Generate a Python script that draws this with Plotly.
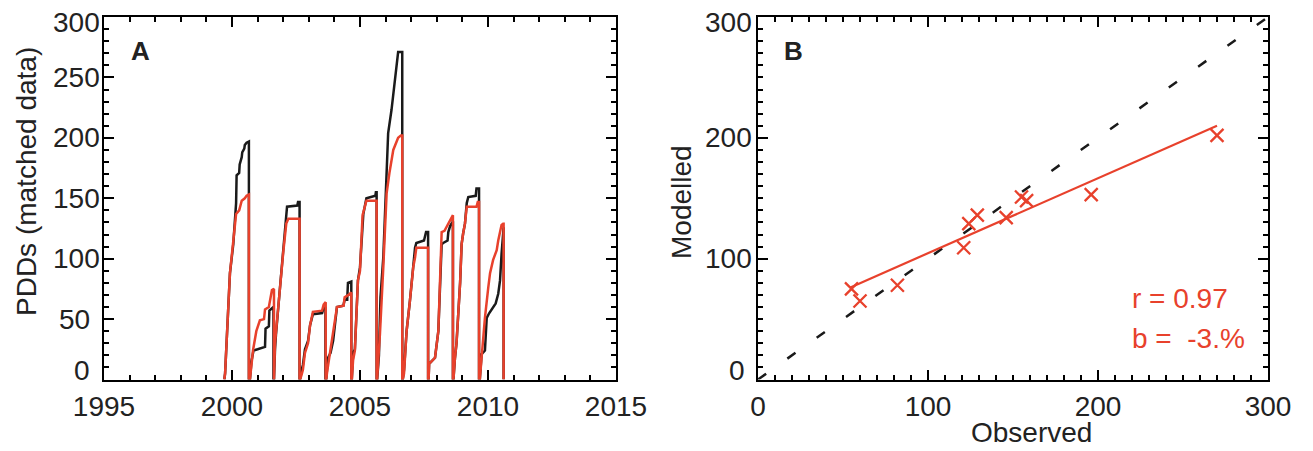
import plotly.graph_objects as go

# ---------------- Panel A data (time series, PDDs) ----------------
obs_t = [1999.70, 1999.73, 1999.92, 2000.05, 2000.16, 2000.18, 2000.28, 2000.30, 2000.38, 2000.40, 2000.48, 2000.50, 2000.57, 2000.66, 2000.66,
         2000.70, 2000.76, 2000.82, 2000.84, 2001.00, 2001.29, 2001.31, 2001.44, 2001.46, 2001.60, 2001.62, 2001.62,
         2001.64, 2001.68, 2001.72, 2001.85, 2002.00, 2002.10, 2002.15, 2002.55, 2002.58, 2002.64, 2002.64,
         2002.66, 2002.72, 2002.77, 2002.85, 2002.97, 2003.05, 2003.16, 2003.52, 2003.56, 2003.65, 2003.65,
         2003.68, 2003.72, 2003.75, 2003.85, 2003.95, 2004.02, 2004.10, 2004.35, 2004.40, 2004.50, 2004.53, 2004.66, 2004.66,
         2004.68, 2004.73, 2004.80, 2004.92, 2005.00, 2005.13, 2005.20, 2005.25, 2005.60, 2005.62, 2005.65, 2005.65,
         2005.67, 2005.74, 2005.80, 2005.91, 2006.04, 2006.10, 2006.23, 2006.36, 2006.49, 2006.65, 2006.65,
         2006.67, 2006.72, 2006.82, 2006.95, 2007.08, 2007.15, 2007.20, 2007.50, 2007.58, 2007.66, 2007.66,
         2007.68, 2007.70, 2007.93, 2008.06, 2008.13, 2008.19, 2008.25, 2008.42, 2008.45, 2008.52, 2008.60, 2008.63, 2008.63,
         2008.65, 2008.71, 2008.77, 2008.91, 2008.97, 2009.03, 2009.10, 2009.17, 2009.23, 2009.52, 2009.55, 2009.65, 2009.65,
         2009.68, 2009.75, 2009.88, 2009.95, 2010.05, 2010.20, 2010.30, 2010.40, 2010.47, 2010.53, 2010.59, 2010.61, 2010.61]
obs_v = [0, 5, 88, 112, 146, 169, 171, 178, 184, 188, 191, 194, 196, 197, 0,
         0, 15, 21, 24, 25, 27, 42, 44, 57, 60, 60, 0,
         0, 25, 38, 70, 105, 128, 143, 144, 147, 147, 0,
         0, 8, 12, 25, 32, 45, 54, 55, 58, 60, 0,
         0, 10, 18, 22, 32, 45, 60, 61, 66, 66, 80, 81, 0,
         0, 22, 25, 82, 93, 137, 146, 150, 152, 155, 155, 0,
         0, 20, 68, 101, 165, 204, 223, 248, 271, 271, 0,
         0, 8, 40, 65, 93, 109, 113, 115, 122, 122, 0,
         0, 13, 18, 40, 90, 112, 113, 115, 122, 127, 130, 130, 0,
         0, 18, 30, 80, 112, 121, 129, 146, 151, 152, 158, 158, 0,
         0, 21, 24, 51, 55, 60, 63, 71, 82, 104, 126, 126, 0]

mod_t = [1999.70, 1999.73, 1999.92, 2000.05, 2000.12, 2000.16, 2000.28, 2000.38, 2000.50, 2000.57, 2000.66, 2000.66,
         2000.70, 2000.76, 2000.82, 2000.95, 2001.09, 2001.25, 2001.29, 2001.44, 2001.56, 2001.64, 2001.64,
         2001.64, 2001.68, 2001.72, 2001.85, 2002.00, 2002.12, 2002.20, 2002.64, 2002.64,
         2002.66, 2002.72, 2002.77, 2002.85, 2002.97, 2003.05, 2003.16, 2003.52, 2003.58, 2003.66, 2003.66,
         2003.68, 2003.72, 2003.78, 2003.90, 2004.00, 2004.10, 2004.36, 2004.40, 2004.55, 2004.66, 2004.66,
         2004.68, 2004.73, 2004.80, 2004.92, 2005.00, 2005.10, 2005.20, 2005.25, 2005.65, 2005.65,
         2005.67, 2005.74, 2005.78, 2005.91, 2006.04, 2006.15, 2006.30, 2006.49, 2006.60, 2006.65, 2006.65,
         2006.67, 2006.72, 2006.82, 2006.95, 2007.08, 2007.15, 2007.20, 2007.66, 2007.66,
         2007.68, 2007.70, 2007.93, 2008.06, 2008.13, 2008.19, 2008.30, 2008.45, 2008.52, 2008.63, 2008.63,
         2008.65, 2008.71, 2008.77, 2008.91, 2008.97, 2009.03, 2009.10, 2009.17, 2009.55, 2009.60, 2009.65, 2009.65,
         2009.68, 2009.75, 2009.88, 2010.01, 2010.08, 2010.20, 2010.34, 2010.40, 2010.53, 2010.59, 2010.61, 2010.61]
mod_v = [0, 5, 88, 112, 130, 137, 140, 148, 150, 152, 153, 0,
         0, 12, 24, 40, 49, 50, 58, 60, 74, 75, 0,
         0, 30, 40, 72, 105, 129, 133, 133, 0,
         0, 4, 8, 22, 30, 45, 56, 57, 62, 64, 0,
         0, 7, 16, 30, 45, 60, 61, 68, 70, 72, 0,
         0, 16, 24, 82, 90, 136, 144, 148, 148, 0,
         0, 25, 38, 93, 154, 171, 190, 200, 202, 202, 0,
         0, 5, 40, 65, 93, 101, 109, 109, 0,
         0, 13, 18, 40, 90, 122, 123, 129, 132, 136, 0,
         0, 18, 30, 80, 112, 121, 129, 143, 143, 147, 147, 0,
         0, 18, 51, 76, 88, 99, 107, 115, 128, 129, 129, 0]

# ---------------- Panel B data (scatter) ----------------
observed = [55, 60, 82, 121, 124, 129, 146, 155, 158, 196, 270]
modelled = [75, 65, 78, 109, 129, 136, 134, 151, 148, 153, 202]
fit_x = [54, 270]
fit_y = [76, 210]
one_to_one = [0, 300]
stats_text = ["r = 0.97", "b =  -3.%"]

x_ticks_a = [1995, 2000, 2005, 2010, 2015]
y_ticks_a = [0, 50, 100, 150, 200, 250, 300]
x_ticks_b = [0, 100, 200, 300]
y_ticks_b = [0, 100, 200, 300]

RED = "#E8412C"
BLACK = "#1a1a1a"
TXT = "#222222"
FONT = "Liberation Sans, Arial, sans-serif"

W, H = 1313, 451
def px_x(p):
    return p / W
def px_y(p):
    return 1 - p / H

fig = go.Figure()
fig.add_trace(go.Scatter(x=obs_t, y=obs_v, mode="lines", line=dict(color=BLACK, width=2.5),
                         xaxis="x", yaxis="y", showlegend=False))
fig.add_trace(go.Scatter(x=mod_t, y=mod_v, mode="lines", line=dict(color=RED, width=2.5),
                         xaxis="x", yaxis="y", showlegend=False))

fig.add_trace(go.Scatter(x=one_to_one, y=one_to_one, mode="lines",
                         line=dict(color=BLACK, width=2.5, dash="10px,26px"),
                         xaxis="x2", yaxis="y2", showlegend=False))
fig.add_trace(go.Scatter(x=fit_x, y=fit_y, mode="lines", line=dict(color=RED, width=2.2),
                         xaxis="x2", yaxis="y2", showlegend=False))
fig.add_trace(go.Scatter(x=observed, y=modelled, mode="markers",
                         marker=dict(symbol="x-thin", size=13, line=dict(color=RED, width=2.3)),
                         xaxis="x2", yaxis="y2", showlegend=False))

axis_common = dict(showline=True, linecolor="black", linewidth=2, mirror="ticks",
                   ticks="inside", ticklen=10, tickwidth=2, tickcolor="black",
                   showgrid=False, zeroline=False, automargin=False,
                   tickfont=dict(family=FONT, size=28, color=TXT))

ydom = [px_y(379.5), px_y(17)]
fig.update_layout(
    width=W, height=H,
    margin=dict(l=0, r=0, t=0, b=0, autoexpand=False),
    paper_bgcolor="white", plot_bgcolor="white",
    xaxis=dict(domain=[px_x(104), px_x(616)], range=[1995, 2015], anchor="y",
               tickvals=x_ticks_a, ticklabelstandoff=1,
               minor=dict(dtick=1, tick0=1995, ticks="inside", ticklen=5, tickwidth=2, tickcolor="black"),
               **axis_common),
    yaxis=dict(domain=ydom, range=[0, 300], anchor="x",
               tickvals=y_ticks_a, showticklabels=False,
               minor=dict(dtick=10, tick0=0, ticks="inside", ticklen=5, tickwidth=2, tickcolor="black"),
               **axis_common),
    xaxis2=dict(domain=[px_x(758), px_x(1268)], range=[0, 300], anchor="y2",
                tickvals=x_ticks_b, ticklabelstandoff=1,
                minor=dict(dtick=10, tick0=0, ticks="inside", ticklen=5, tickwidth=2, tickcolor="black"),
                **axis_common),
    yaxis2=dict(domain=ydom, range=[0, 300], anchor="x2",
                tickvals=y_ticks_b, showticklabels=False,
                minor=dict(dtick=10, tick0=0, ticks="inside", ticklen=5, tickwidth=2, tickcolor="black"),
                **axis_common),
)

ann = []
# y tick labels (placed on the axes' own data scale)
def ylabels(vals, yref, right_long, right_short, top):
    for v in vals:
        s = str(v)
        xr = right_long if len(s) >= 3 else right_short
        shift = 0
        if v == 0:
            shift = 9
        elif v == top:
            shift = -5
        ann.append(dict(text=s, x=px_x(xr), xref="paper", y=v, yref=yref,
                        xanchor="right", yanchor="middle", yshift=shift, showarrow=False,
                        font=dict(family=FONT, size=28, color=TXT)))

ylabels(y_ticks_a, "y", 102, 92, 300)
ylabels(y_ticks_b, "y2", 754, 747, 300)

def label(text, x, y, size=28, color=TXT, angle=0, xanchor="center"):
    ann.append(dict(text=text, textangle=angle, x=px_x(x), y=px_y(y),
                    xref="paper", yref="paper", showarrow=False,
                    xanchor=xanchor, yanchor="middle",
                    font=dict(family=FONT, size=size, color=color)))

label("PDDs (matched data)", 26, 182, angle=-90)
label("Modelled", 681, 202, angle=-90)
label("Observed", 1031, 432)
label("<b>A</b>", 140, 51, size=26)
label("<b>B</b>", 793, 51, size=26)
label(stats_text[0], 1130, 298, color=RED, xanchor="left")
label(stats_text[1], 1130, 338, color=RED, xanchor="left")
fig.update_layout(annotations=ann)

fig.write_html("out.html")
